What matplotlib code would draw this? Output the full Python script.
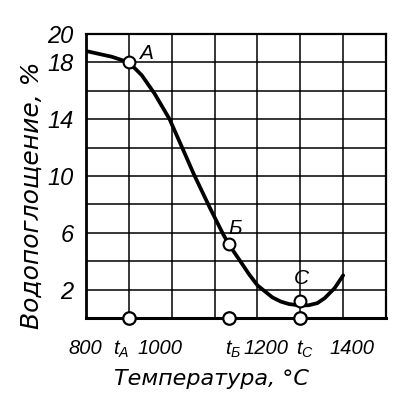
import matplotlib
matplotlib.use("Agg")
import matplotlib.pyplot as plt
import matplotlib.transforms as mtransforms
import numpy as np

# ---------------- data ----------------
curve_T = [800, 830, 860, 900, 930, 960, 995, 1020, 1052, 1090, 1120, 1133,
           1160, 1180, 1200, 1235, 1255, 1274, 1300, 1320, 1340, 1357, 1380, 1400]
curve_V = [18.8, 18.6, 18.4, 18.0, 17.1, 15.8, 14.0, 12.3, 10.1, 7.7, 5.9, 5.2,
           4.0, 3.1, 2.3, 1.45, 1.15, 0.98, 0.88, 0.9, 1.05, 1.4, 2.1, 3.0]

point_names = ["A", "Б", "C"]
point_T = [900, 1133, 1300]
point_V = [18.0, 5.2, 1.2]
label_T = [940, 1148, 1302]
label_V = [18.6, 6.3, 2.8]

xtick_values = [800, 900, 1000, 1133, 1200, 1300, 1400]
xtick_labels = ["800", "$t_A$", "1000", "$t_Б$", "1200", "$t_C$", "1400"]
ytick_values = [2, 6, 10, 14, 18, 20]
ytick_labels = ["2", "6", "10", "14", "18", "20"]

grid_T = [800, 900, 1000, 1100, 1200, 1300, 1400, 1500]
grid_V = [0, 2, 4, 6, 8, 10, 12, 14, 16, 18, 20]

xlabel = "Температура, °C"
ylabel = "Водопоглощение, %"

# ---------------- style ----------------
font = "Liberation Sans"
plt.rcParams["font.family"] = [font, "DejaVu Sans"]
plt.rcParams["mathtext.fontset"] = "custom"
plt.rcParams["mathtext.it"] = font + ":italic"
plt.rcParams["mathtext.rm"] = font
plt.rcParams["mathtext.bf"] = font + ":bold"

xtick_offsets_px = [-1, -8, -12, 4, 9, 5, 9]

fig = plt.figure(figsize=(4.06, 3.98), dpi=100)
ax = fig.add_axes([86 / 406, 1 - 318 / 398, 300 / 406, 284 / 398])
ax.set_xlim(800, 1500)
ax.set_ylim(0, 20)

# grid
for g in grid_T:
    ax.axvline(g, color="black", linewidth=1.1, zorder=1)
for g in grid_V:
    ax.axhline(g, color="black", linewidth=1.1, zorder=1)
ax.tick_params(which="both", length=0)
for s in ax.spines.values():
    s.set_linewidth(1.6)
    s.set_color("black")
ax.spines["bottom"].set_linewidth(2.2)
ax.spines["left"].set_linewidth(2.0)

# curve
ax.plot(curve_T, curve_V, color="black", linewidth=2.7, solid_capstyle="round",
        solid_joinstyle="round", zorder=3)
ax.plot(point_T, point_V, "o", markersize=8.5, markerfacecolor="white",
        markeredgecolor="black", markeredgewidth=1.5, zorder=4)
ax.plot(point_T, [0] * len(point_T), "o", markersize=9, markerfacecolor="white",
        markeredgecolor="black", markeredgewidth=1.6, zorder=5, clip_on=False)
for name, tx, ty in zip(point_names, label_T, label_V):
    ax.text(tx, ty, name, ha="center", va="center", fontsize=15,
            fontstyle="italic", zorder=6)

# ticks
ax.set_yticks(ytick_values)
ax.set_yticklabels(ytick_labels, fontsize=17, fontstyle="italic")
ax.set_xticks(xtick_values)
ax.set_xticklabels(xtick_labels, fontsize=14.5, fontstyle="italic")
ax.tick_params(axis="y", which="major", pad=9)
ax.tick_params(axis="x", which="major", pad=15)
for lab, off in zip(ax.get_xticklabels(), xtick_offsets_px):
    lab.set_transform(lab.get_transform() +
                      mtransforms.ScaledTranslation(off / 100, 0, fig.dpi_scale_trans))

ax.set_ylabel(ylabel, fontsize=18, fontstyle="italic", family=["DejaVu Sans"])
ax.yaxis.set_label_coords(-0.14, 0.433)
ax.set_xlabel(xlabel, fontsize=16, fontstyle="italic", family=["DejaVu Sans"])
ax.xaxis.set_label_coords(0.417, -0.178)

fig.savefig("out.png", dpi=100, facecolor="white")
